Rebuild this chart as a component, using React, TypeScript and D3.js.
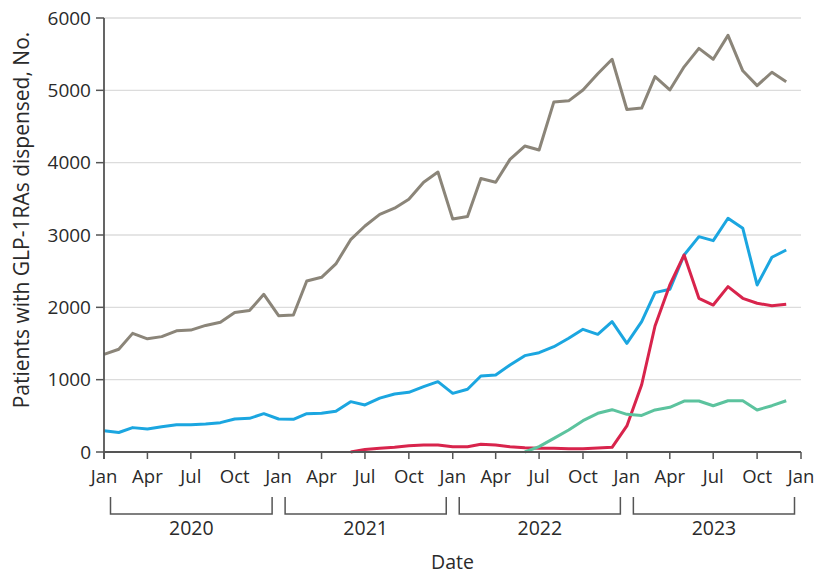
import React from "react";
import * as d3 from "d3";

const startMonth = new Date(2020, 0, 1);
const endMonth = new Date(2024, 0, 1);
const months: Date[] = d3.timeMonth.range(startMonth, endMonth);

const yTicks = [0, 1000, 2000, 3000, 4000, 5000, 6000];
const quarterLabels = ["Jan", "Apr", "Jul", "Oct"];
const years = [2020, 2021, 2022, 2023];

const seriesNames = ["Total", "Semaglutide", "Tirzepatide", "Other"];

const grayValues: (number | null)[] = [
  1350, 1420, 1640, 1565, 1595, 1675, 1685, 1750, 1795, 1930, 1955, 2180,
  1885, 1895, 2365, 2415, 2600, 2935, 3125, 3285, 3370, 3495, 3730, 3870,
  3220, 3255, 3780, 3730, 4045, 4230, 4175, 4840, 4855, 5005, 5230, 5430,
  4735, 4755, 5190, 5005, 5325, 5580, 5430, 5760, 5270, 5065, 5250, 5120,
];

const blueValues: (number | null)[] = [
  295, 270, 337, 318, 350, 378, 378, 388, 406, 456, 465, 530,
  456, 452, 530, 535, 562, 696, 650, 745, 802, 825, 903, 972,
  811, 867, 1051, 1065, 1203, 1332, 1373, 1456, 1572, 1696, 1627, 1802,
  1502, 1802, 2203, 2249, 2724, 2977, 2922, 3231, 3093, 2309, 2692, 2793,
];

const redValues: (number | null)[] = [
  null, null, null, null, null, null, null, null, null, null, null, null,
  null, null, null, null, null, 0, 35, 51, 65, 87, 97, 97,
  74, 74, 106, 97, 74, 60, 51, 51, 46, 46, 55, 65,
  360, 930, 1742, 2309, 2724, 2125, 2032, 2286, 2125, 2056, 2023, 2042,
];

const greenValues: (number | null)[] = [
  null, null, null, null, null, null, null, null, null, null, null, null,
  null, null, null, null, null, null, null, null, null, null, null, null,
  null, null, null, null, null, 0, 74, 189, 304, 433, 535, 585,
  521, 505, 581, 618, 705, 705, 640, 709, 709, 581, 640, 709,
];

const seriesValues = [grayValues, blueValues, redValues, greenValues];
const seriesColors = ["#8b8579", "#1ba6e0", "#d8244c", "#5cc39e"];

const W = 817;
const H = 575;
const margin = { left: 104, right: 16, top: 18, bottom: 123 };
const FONT = "'Open Sans', 'Noto Sans', sans-serif";
const TEXT = "#2a2a2a";
const AXIS = "#555";

export default function App() {
  const x = d3.scaleTime().domain([startMonth, endMonth]).range([margin.left, W - margin.right]);
  const y = d3.scaleLinear().domain([0, 6000]).range([H - margin.bottom, margin.top]);
  const y0 = y(0);
  const quarterTicks = d3.timeMonth.every(3)!.range(startMonth, d3.timeMonth.offset(endMonth, 1));

  const line = d3
    .line<[Date, number | null]>()
    .defined((d) => d[1] !== null)
    .x((d) => x(d[0]))
    .y((d) => y(d[1] as number));

  return (
    <svg width={W} height={H} style={{ position: "absolute", left: 0, top: 0, background: "#fff" }}>
      {/* gridlines */}
      {yTicks.slice(1).map((t) => (
        <line key={t} x1={x(startMonth)} x2={x(endMonth)} y1={y(t)} y2={y(t)} stroke="#dcdcdc" strokeWidth={1.3} />
      ))}
      {/* series */}
      {seriesValues.map((vals, i) => (
        <path
          key={seriesNames[i]}
          d={line(months.map((m, j) => [m, vals[j]]) as [Date, number | null][]) || ""}
          fill="none"
          stroke={seriesColors[i]}
          strokeWidth={3}
          strokeLinejoin="round"
        />
      ))}
      {/* y axis */}
      <line x1={margin.left} x2={margin.left} y1={y(6000)} y2={y0 + 7} stroke={AXIS} strokeWidth={1.8} />
      {yTicks.map((t) => (
        <g key={t}>
          <line x1={margin.left - 8} x2={margin.left} y1={y(t)} y2={y(t)} stroke={AXIS} strokeWidth={1.5} />
          <text x={margin.left - 13} y={y(t)} dy="0.35em" textAnchor="end" fontFamily={FONT} fontSize={19} fill={TEXT}>
            {t}
          </text>
        </g>
      ))}
      {/* x axis */}
      <line x1={margin.left} x2={x(endMonth)} y1={y0} y2={y0} stroke={AXIS} strokeWidth={1.8} />
      {quarterTicks.map((d, i) => (
        <g key={i}>
          <line x1={x(d)} x2={x(d)} y1={y0} y2={y0 + 7} stroke={AXIS} strokeWidth={1.5} />
          <text x={x(d)} y={y0 + 31} textAnchor="middle" fontFamily={FONT} fontSize={18.5} fill={TEXT}>
            {quarterLabels[d.getMonth() / 3]}
          </text>
        </g>
      ))}
      {/* year brackets */}
      {years.map((yr) => {
        const a = x(new Date(yr, 0, 1)) + 6.5;
        const b = x(new Date(yr + 1, 0, 1)) - 6.5;
        const top = y0 + 45;
        const bot = y0 + 62;
        return (
          <g key={yr}>
            <path d={`M${a},${top}V${bot}H${b}V${top}`} fill="none" stroke={AXIS} strokeWidth={1.5} />
            <text x={(a + b) / 2} y={y0 + 83} textAnchor="middle" fontFamily={FONT} fontSize={19.5} fill={TEXT}>
              {yr}
            </text>
          </g>
        );
      })}
      <text x={(x(startMonth) + x(endMonth)) / 2} y={H - 6} textAnchor="middle" fontFamily={FONT} fontSize={19.5} fill={TEXT}>
        Date
      </text>
      <text
        transform={`translate(29,220) rotate(-90)`}
        textAnchor="middle"
        fontFamily={FONT}
        fontSize={21}
        fill={TEXT}
      >
        Patients with GLP-1RAs dispensed, No.
      </text>
    </svg>
  );
}
